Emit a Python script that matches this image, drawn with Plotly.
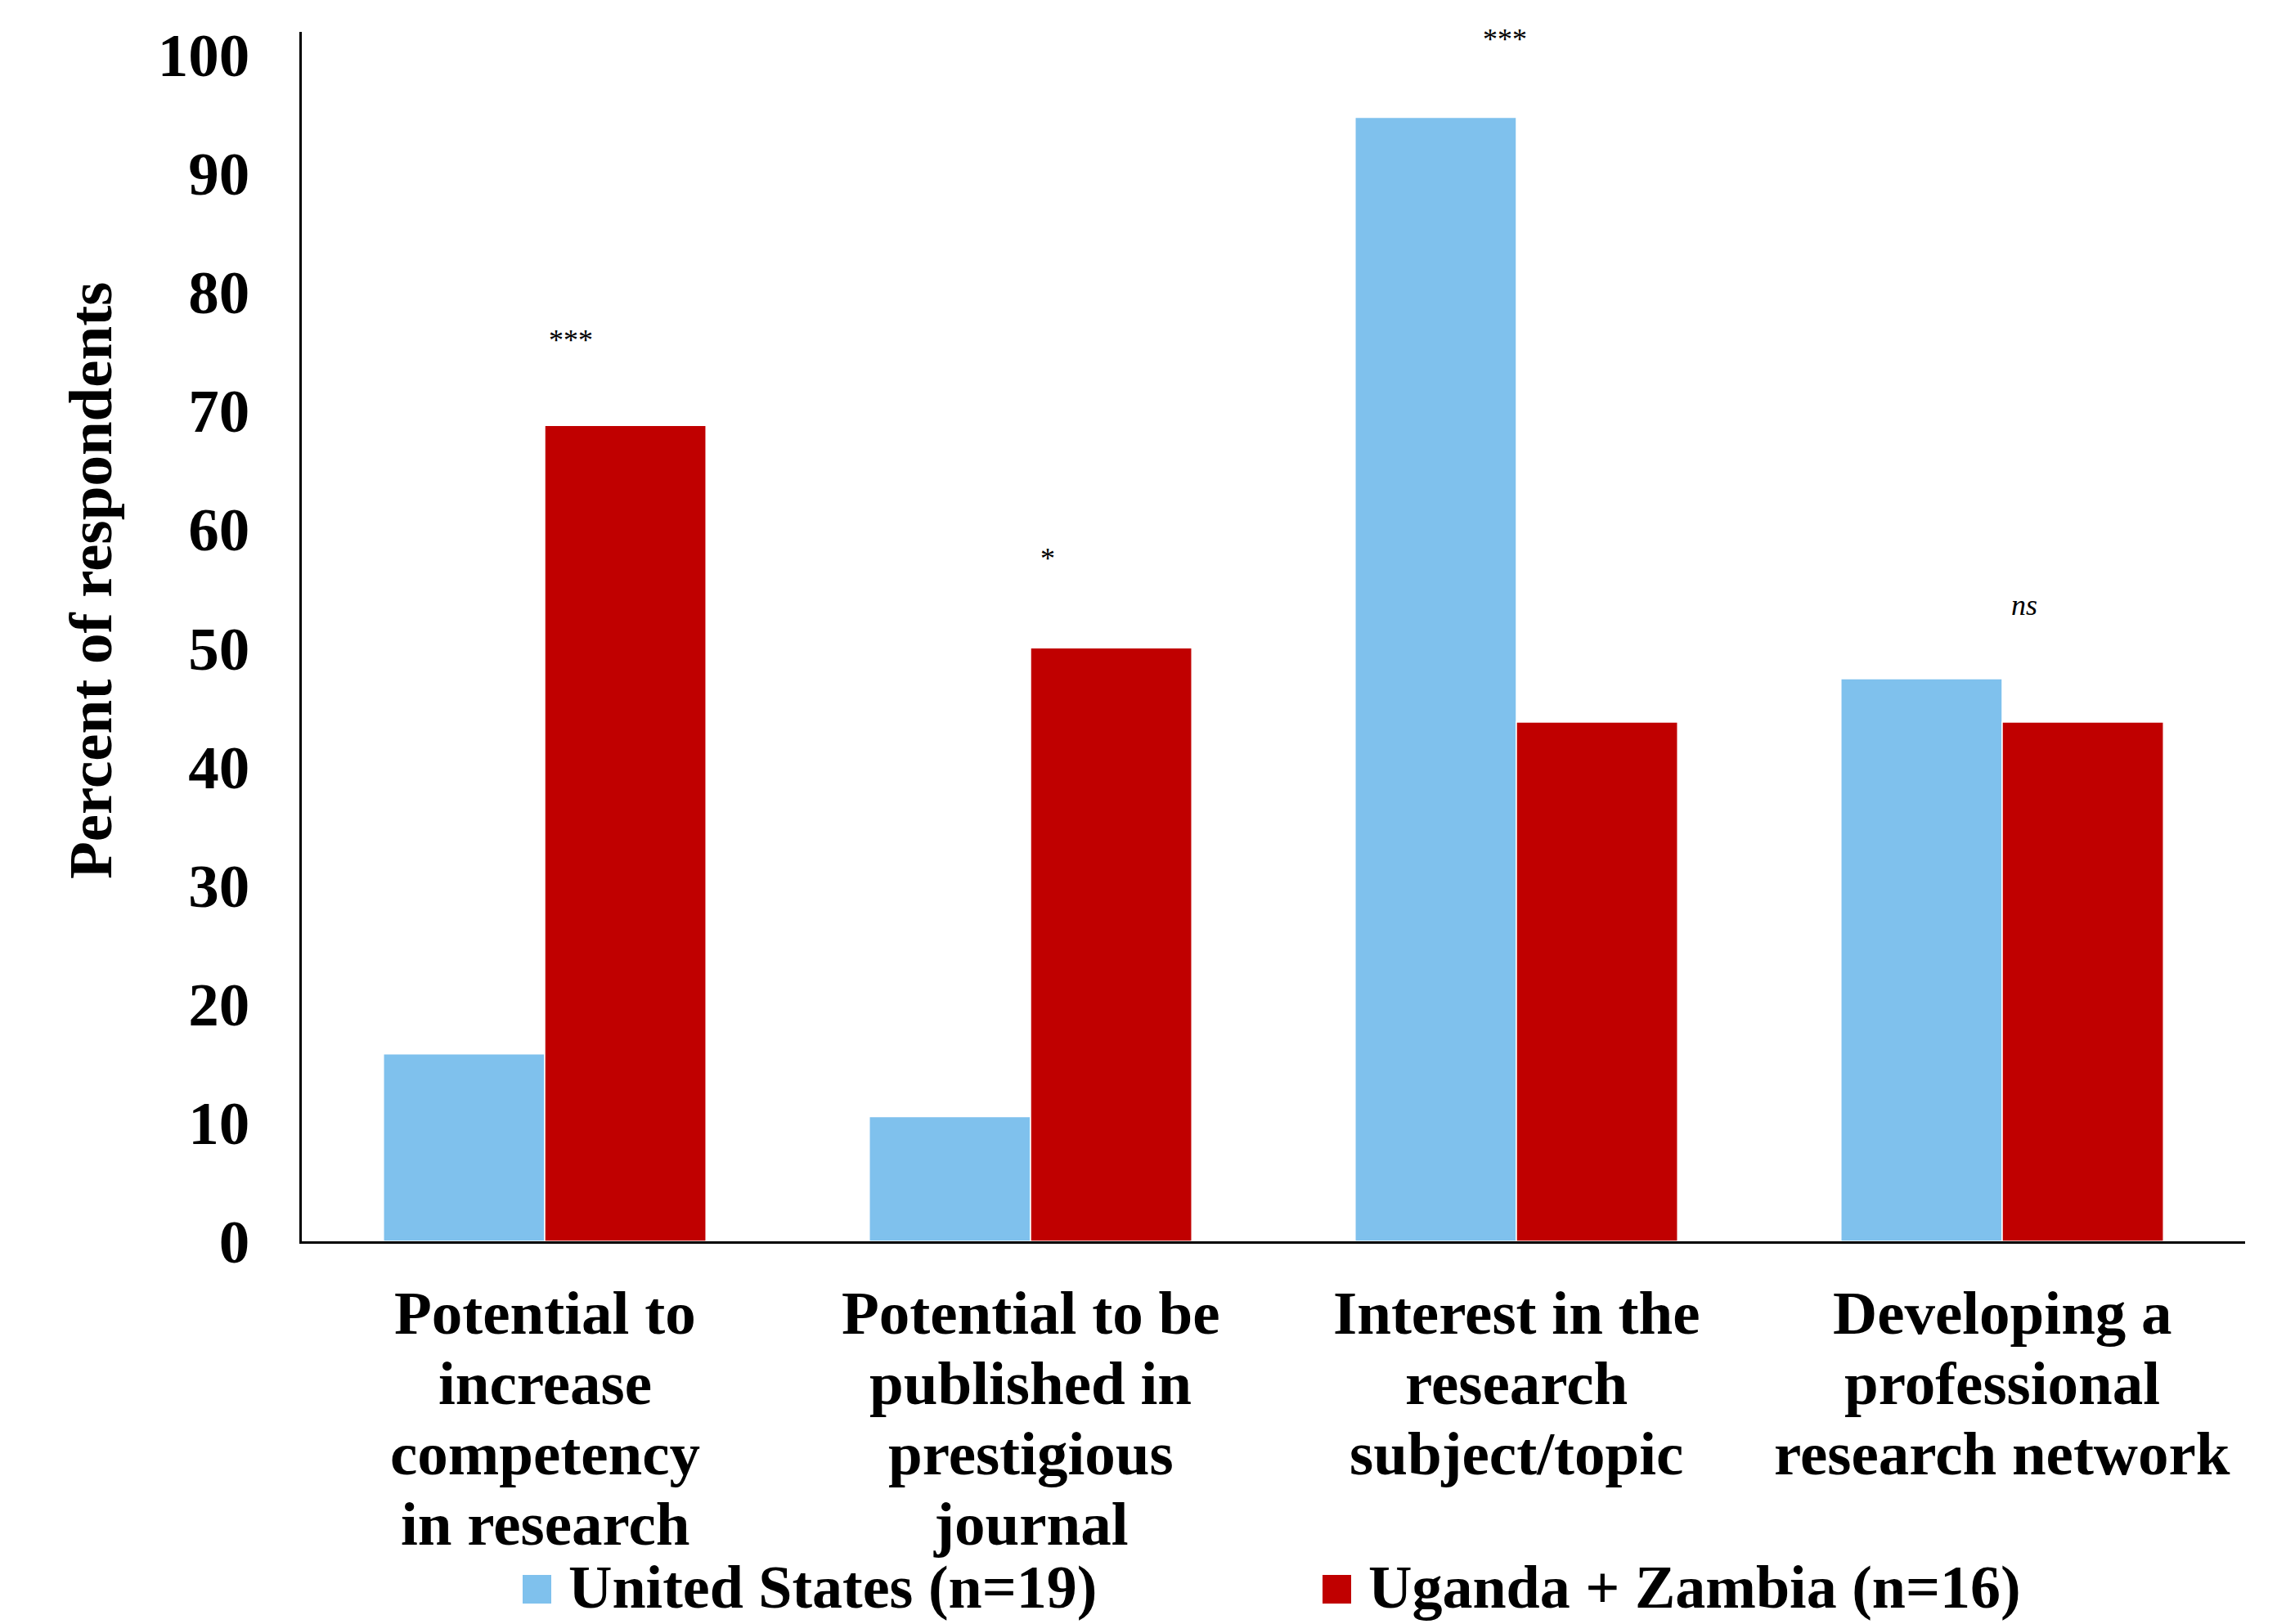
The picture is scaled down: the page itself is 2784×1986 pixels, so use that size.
import plotly.graph_objects as go

# Survey data: share of respondents citing each motivation
categories = [
    ["Potential to", "increase", "competency", "in research"],
    ["Potential to be", "published in", "prestigious", "journal"],
    ["Interest in the", "research", "subject/topic"],
    ["Developing a", "professional", "research network"],
]
series_names = ["United States (n=19)", "Uganda + Zambia (n=16)"]
us_values = [15.8, 10.5, 94.7, 47.4]
uz_values = [68.75, 50.0, 43.75, 43.75]
sig_labels = ["***", "*", "***", "<i>ns</i>"]
sig_y = [75.9, 57.5, 101.3, 53.6]
sig_dx = [0.054, 0.036, -0.024, 0.045]
y_ticks = list(range(0, 101, 10))

W, H = 2784, 1986
ML, MR, MT, MB = 369, 39, 39, 468
PW, PH = W - ML - MR, H - MT - MB
FONT = "Liberation Serif, Times New Roman, serif"
BLUE = "#7FC1ED"
RED = "#C00000"


def py(pix):
    """Pixel row -> paper y."""
    return (H - MB - pix) / PH


def px(pix):
    """Pixel column -> paper x."""
    return (pix - ML) / PW


xs = list(range(len(categories)))

fig = go.Figure()
fig.add_trace(go.Bar(x=xs, y=us_values, name=series_names[0],
                     marker=dict(color=BLUE, line=dict(color="white", width=1.5))))
fig.add_trace(go.Bar(x=xs, y=uz_values, name=series_names[1],
                     marker=dict(color=RED, line=dict(color="white", width=1.5))))

annotations = []
# significance markers above each group
for i, (lab, yv, dx) in enumerate(zip(sig_labels, sig_y, sig_dx)):
    annotations.append(dict(x=i + dx, y=yv, xref="x", yref="y", text=lab,
                            showarrow=False, xanchor="center", yanchor="middle",
                            font=dict(family=FONT, size=36, color="black")))

# multi-line category labels with tight line spacing
line_rows = [1605, 1691, 1777, 1863]
for i, lines in enumerate(categories):
    for j, ln in enumerate(lines):
        annotations.append(dict(x=i, y=py(line_rows[j]), xref="x", yref="paper",
                                text=ln, showarrow=False, xanchor="center", yanchor="middle",
                                font=dict(family=FONT, size=75, color="black", weight="bold")))

# y-axis title
annotations.append(dict(x=px(110), y=py(710), xref="paper", yref="paper",
                        text="Percent of respondents", textangle=-90, showarrow=False,
                        xanchor="center", yanchor="middle",
                        font=dict(family=FONT, size=75, color="black", weight="bold")))

# legend
shapes = []
legend_items = [(639, 693, BLUE), (1617, 1671, RED)]
for (sx, tx, col), name in zip(legend_items, series_names):
    shapes.append(dict(type="rect", xref="paper", yref="paper",
                       x0=px(sx), x1=px(sx + 35), y0=py(1961), y1=py(1926),
                       fillcolor=col, line=dict(width=0)))
    annotations.append(dict(x=px(tx), y=py(1941), xref="paper", yref="paper",
                            text=name, showarrow=False, xanchor="left", yanchor="middle",
                            font=dict(family=FONT, size=74, color="black", weight="bold")))

fig.update_layout(
    width=W, height=H,
    margin=dict(l=ML, r=MR, t=MT, b=MB, pad=0),
    paper_bgcolor="white", plot_bgcolor="white",
    barmode="group", bargap=0.336, bargroupgap=0,
    showlegend=False,
    annotations=annotations, shapes=shapes,
    font=dict(family=FONT, color="black"),
)
fig.update_xaxes(range=[-0.5, len(categories) - 0.5], showticklabels=False,
                 showgrid=False, zeroline=False, showline=True,
                 linecolor="black", linewidth=2.5, ticks="")
fig.update_yaxes(range=[0, 101.9], tickvals=y_ticks, showgrid=False, zeroline=False,
                 showline=True, linecolor="black", linewidth=2.5, ticks="",
                 ticklabelstandoff=46,
                 tickfont=dict(family=FONT, size=75, color="black", weight="bold"))

fig.write_html("out.html")
